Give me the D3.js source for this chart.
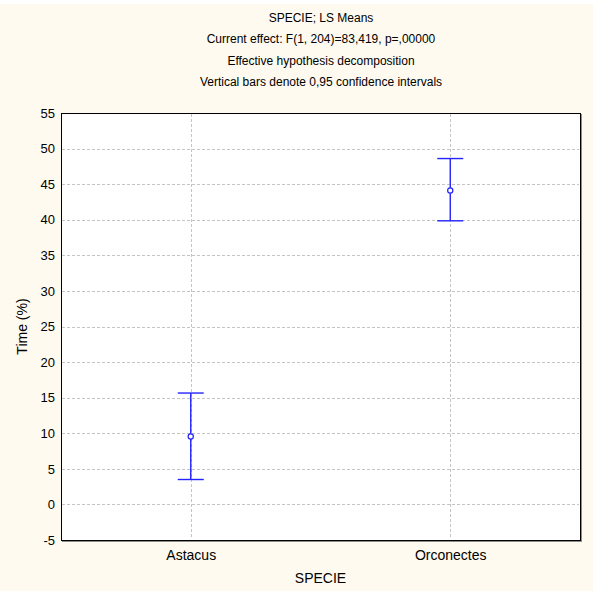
<!DOCTYPE html>
<html>
<head>
<meta charset="utf-8">
<script src="https://cdn.jsdelivr.net/npm/d3@7"></script>
<style>
  html, body { margin: 0; padding: 0; background: #fefaf0; }
  svg { display: block; }
  text { font-family: "Liberation Sans", Arial, sans-serif; fill: #000; }
</style>
</head>
<body>
<svg id="chart" width="593" height="591"></svg>
<script>
// LS means with 0.95 confidence limits per species
const categories = ["Astacus", "Orconectes"];
const means = [9.55, 44.1];
const lower = [3.5, 39.85];
const upper = [15.65, 48.6];
const yTicks = [-5, 0, 5, 10, 15, 20, 25, 30, 35, 40, 45, 50, 55];
const titleLines = [
  "SPECIE; LS Means",
  "Current effect: F(1, 204)=83,419, p=,00000",
  "Effective hypothesis decomposition",
  "Vertical bars denote 0,95 confidence intervals"
];

const svg = d3.select("#chart");
const W = 593, H = 591;
const m = { left: 61, right: 13, top: 113, bottom: 51 };
const x0 = m.left, x1 = W - m.right, y0 = m.top, y1 = H - m.bottom;

svg.append("rect").attr("x", 0).attr("y", 0).attr("width", W).attr("height", H).attr("fill", "#fefaf0");
svg.append("rect").attr("x", 0).attr("y", 0).attr("width", W).attr("height", 4).attr("fill", "#ffffff");

const x = d3.scalePoint().domain(categories).range([x0, x1]).padding(0.5);
const y = d3.scaleLinear().domain([-5, 55]).range([y1, y0]);

// plot area with a thin shadow on the right and bottom
svg.append("rect").attr("x", x0 + 1).attr("y", y0 + 1).attr("width", x1 - x0 + 1).attr("height", y1 - y0 + 1)
  .attr("fill", "#8c8c8c");
svg.append("rect").attr("x", x0).attr("y", y0).attr("width", x1 - x0).attr("height", y1 - y0)
  .attr("fill", "#ffffff");

// grid
const grid = svg.append("g").attr("stroke", "#c4c4c4").attr("stroke-dasharray", "3,2").attr("stroke-width", 1);
grid.selectAll("line.h").data(yTicks.filter(t => t > -5 && t < 55)).join("line")
  .attr("x1", x0 + 1).attr("x2", x1 - 1)
  .attr("y1", d => Math.round(y(d)) + 0.5).attr("y2", d => Math.round(y(d)) + 0.5);
grid.selectAll("line.v").data(categories).join("line")
  .attr("x1", d => Math.round(x(d)) + 0.5).attr("x2", d => Math.round(x(d)) + 0.5)
  .attr("y1", y0 + 1).attr("y2", y1 - 1);

// axes
const yAxis = d3.axisLeft(y).tickValues(yTicks).tickSize(0).tickPadding(6).tickFormat(d => String(d));
const ya = svg.append("g").attr("transform", `translate(${x0},0)`).call(yAxis);
ya.select(".domain").remove();
ya.selectAll("text").style("font-size", "13px").style("font-family", "'Liberation Sans', Arial, sans-serif");

const xAxis = d3.axisBottom(x).tickSize(0).tickPadding(10);
const xa = svg.append("g").attr("transform", `translate(0,${y1})`).call(xAxis);
xa.select(".domain").remove();
xa.selectAll("text").style("font-size", "14px").style("font-family", "'Liberation Sans', Arial, sans-serif");

// frame on top of grid
svg.append("rect").attr("x", x0 + 0.5).attr("y", y0 + 0.5).attr("width", x1 - x0).attr("height", y1 - y0)
  .attr("fill", "none").attr("stroke", "#000").attr("stroke-width", 1);

// error bars
const data = categories.map((c, i) => ({ c, mean: means[i], lo: lower[i], hi: upper[i] }));
const eb = svg.append("g").attr("stroke", "#2323ff").attr("stroke-width", 1.4).attr("fill", "none");
const cap = 13;
eb.selectAll("line.stem").data(data).join("line")
  .attr("x1", d => x(d.c)).attr("x2", d => x(d.c))
  .attr("y1", d => y(d.hi)).attr("y2", d => y(d.lo));
eb.selectAll("line.top").data(data).join("line")
  .attr("x1", d => x(d.c) - cap).attr("x2", d => x(d.c) + cap)
  .attr("y1", d => y(d.hi)).attr("y2", d => y(d.hi));
eb.selectAll("line.bot").data(data).join("line")
  .attr("x1", d => x(d.c) - cap).attr("x2", d => x(d.c) + cap)
  .attr("y1", d => y(d.lo)).attr("y2", d => y(d.lo));
svg.selectAll("circle.mean").data(data).join("circle")
  .attr("cx", d => x(d.c)).attr("cy", d => y(d.mean)).attr("r", 2.6)
  .attr("fill", "#fff").attr("stroke", "#2323ff").attr("stroke-width", 1.2);

// titles
svg.selectAll("text.title").data(titleLines).join("text")
  .attr("x", 321).attr("y", (d, i) => 22 + i * 21.3)
  .attr("text-anchor", "middle").style("font-size", "12px").text(d => d);

// axis titles
svg.append("text").attr("x", (x0 + x1) / 2).attr("y", 583).attr("text-anchor", "middle")
  .style("font-size", "14px").text("SPECIE");
svg.append("text").attr("transform", `translate(27,${(y0 + y1) / 2}) rotate(-90)`)
  .attr("text-anchor", "middle").style("font-size", "14px").text("Time (%)");
</script>
</body>
</html>
